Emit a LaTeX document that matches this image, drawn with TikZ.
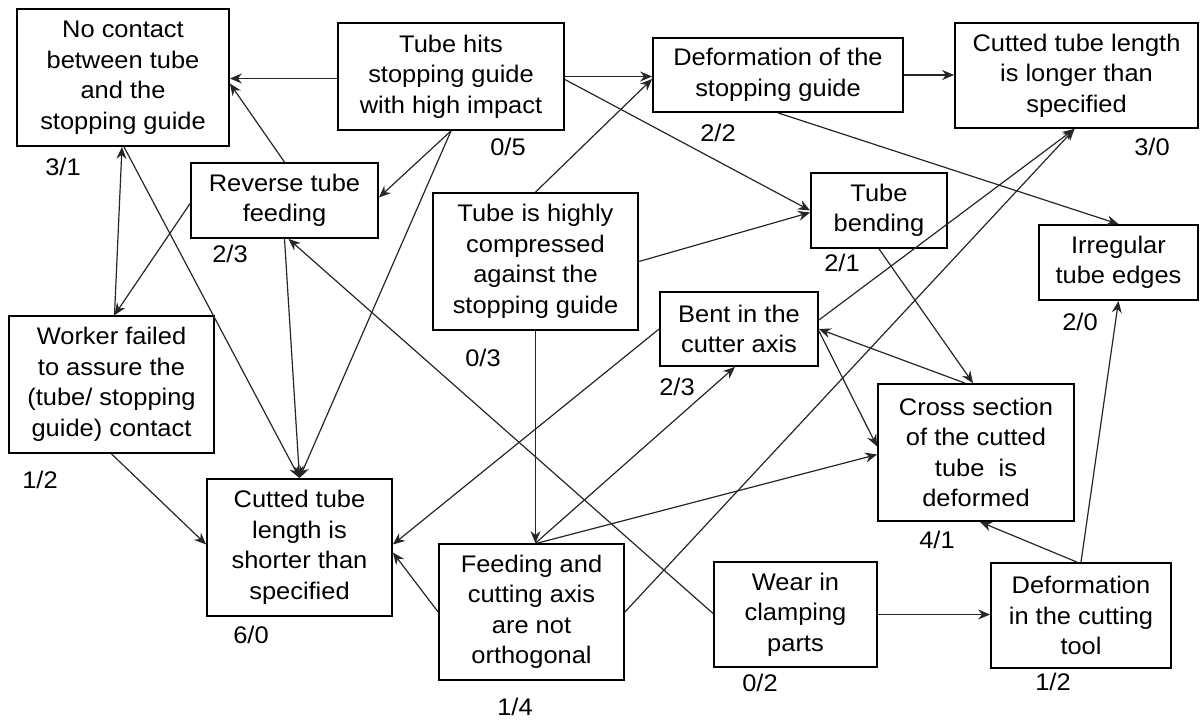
\documentclass[tikz,border=0pt]{standalone}
\usepackage{fontspec}
\setmainfont{Liberation Sans}[FakeStretch=1.06]
\usetikzlibrary{arrows.meta,calc}
\begin{document}
\begin{tikzpicture}[x=1pt,y=-1pt,
  box/.style={draw=black, line width=1.8pt, inner sep=0pt, align=center,
    font=\fontsize{24}{30.5}\selectfont},
  lab/.style={inner sep=0pt, font=\fontsize{24}{28}\selectfont},
  arr/.style={draw=black!85, line width=1.2pt, -{Stealth[length=12pt,width=10pt,inset=4pt]}}]
\useasboundingbox (0,0) rectangle (1200,720);
% boxes
\node[box, minimum width=212pt, minimum height=137pt] (NC) at (123,77.5) {No contact\\between tube\\and the\\stopping guide};
\node[box, minimum width=226pt, minimum height=107pt] (TH) at (451,76.5) {Tube hits\\stopping guide\\with high impact};
\node[box, minimum width=250pt, minimum height=74pt] (DS) at (778,75) {Deformation of the\\stopping guide};
\node[box, minimum width=243pt, minimum height=105pt] (CL) at (1076.5,75.5) {Cutted tube length\\is longer than\\specified};
\node[box, minimum width=187pt, minimum height=75pt] (RT) at (284.5,200.5) {Reverse tube\\feeding};
\node[box, minimum width=205pt, minimum height=137pt] (TC) at (535.5,261.5) {Tube is highly\\compressed\\against the\\stopping guide};
\node[box, minimum width=136pt, minimum height=75pt] (TB) at (879,210.5) {Tube\\bending};
\node[box, minimum width=159pt, minimum height=75pt] (IE) at (1118.5,262.5) {Irregular\\tube edges};
\node[box, minimum width=205pt, minimum height=137pt] (WF) at (111.5,384.5) {Worker failed\\to assure the\\(tube/ stopping\\guide) contact};
\node[box, minimum width=158pt, minimum height=74pt] (BC) at (739,329) {Bent in the\\cutter axis};
\node[box, minimum width=196pt, minimum height=137pt] (CS) at (976,452.5) {Cross section\\of the cutted\\tube~ is\\deformed};
\node[box, minimum width=185pt, minimum height=137pt] (CSh) at (299.5,547.5) {Cutted tube\\length is\\shorter than\\specified};
\node[box, minimum width=185pt, minimum height=136pt] (FC) at (531.5,612) {Feeding and\\cutting axis\\are not\\orthogonal};
\node[box, minimum width=163pt, minimum height=105pt] (WC) at (795.5,614.5) {Wear in\\clamping\\parts};
\node[box, minimum width=180pt, minimum height=105pt] (DC) at (1081,615.5) {Deformation\\in the cutting\\tool};
% labels
\node[lab] (lNC) at (63,167) {3/1};
\node[lab] (lTH) at (508,147) {0/5};
\node[lab] (lDS) at (718,133) {2/2};
\node[lab] (lCL) at (1152,147) {3/0};
\node[lab] (lRT) at (230,254) {2/3};
\node[lab] (lTC) at (483,358) {0/3};
\node[lab] (lTB) at (842,263) {2/1};
\node[lab] (lIE) at (1080,322) {2/0};
\node[lab] (lWF) at (40,480) {1/2};
\node[lab] (lBC) at (677,387) {2/3};
\node[lab] (lCS) at (937,540) {4/1};
\node[lab] (lCSh) at (251,635) {6/0};
\node[lab] (lFC) at (515,707) {1/4};
\node[lab] (lWC) at (760,683) {0/2};
\node[lab] (lDC) at (1053,682) {1/2};
% connectors
\draw[arr] ($(TH.west)+(0,2)$) -- ($(TH.west -| NC.east)+(0,2)$);
\draw[arr] (RT.north) -- ($(NC.east)+(0,6)$);
\draw[arr] (TH.east) -- (TH.east -| DS.west);
\draw[arr] ($(TH.east)+(0,3)$) -- (TB.west);
\draw[arr] (TH.south) -- ($(RT.east)+(0,-3)$);
\draw[arr] (TH.south) -- (CSh.north);
\draw[arr] ($(RT.west)+(0,3)$) -- ($(WF.north)+(3,0)$);
\draw[arr] ($(WF.north)+(3,0)$) -- ($(NC.south)+(-1,0)$);
\draw[arr] ($(NC.south)+(1,0)$) -- (CSh.north);
\draw[arr] (RT.south) -- (CSh.north);
\draw[arr] ($(WC.west)+(0,-1)$) -- ($(RT.south)+(4,0)$);
\draw[arr] (WF.south) -- ($(CSh.west)+(0,-3)$);
\draw[arr] (BC.west) -- ($(CSh.east)+(0,-3)$);
\draw[arr] (FC.west) -- ($(CSh.east)+(0,5)$);
\draw[arr] (TC.north) -- ($(DS.west)+(0,4)$);
\draw[arr] (TC.east) -- ($(TB.west)+(0,2)$);
\draw[arr] (TC.south) -- (TC.south |- FC.north);
\draw[arr] (DS.east) -- (DS.east -| CL.west);
\draw[arr] (DS.south) -- (IE.north);
\draw[arr] (TB.south) -- ($(CS.north)+(-3,0)$);
\draw[arr] ($(BC.east)+(0,-9)$) -- ($(CL.south)+(-2,0)$);
\draw[arr] (FC.east) -- ($(CL.south)+(-2,0)$);
\draw[arr] ($(CS.north)+(-11,0)$) -- (BC.east);
\draw[arr] ($(BC.east)+(0,2)$) -- ($(CS.west)+(0,-6)$);
\draw[arr] ($(FC.north)+(6,0)$) -- ($(CS.west)+(0,2)$);
\draw[arr] ($(FC.north)+(4,0)$) -- ($(BC.south)+(-4,0)$);
\draw[arr] (WC.east) -- (WC.east -| DC.west);
\draw[arr] ($(DC.north)+(-4,0)$) -- ($(CS.south)+(4,0)$);
\draw[arr] (DC.north) -- (IE.south);
\end{tikzpicture}
\end{document}
